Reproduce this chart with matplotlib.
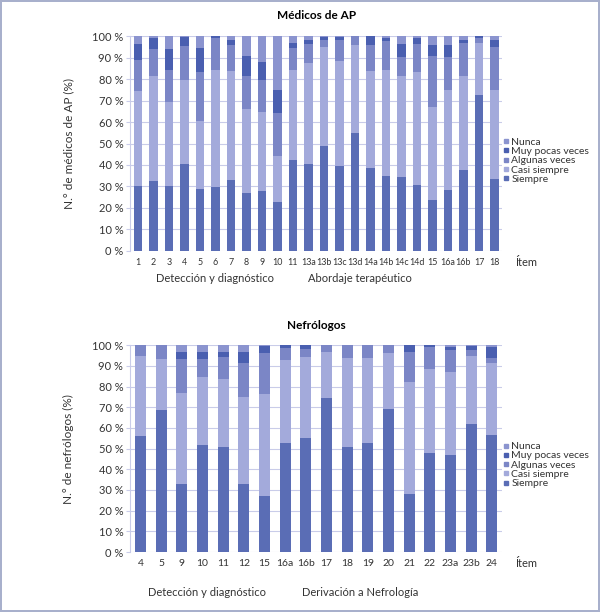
import matplotlib.pyplot as plt
import numpy as np
from matplotlib.lines import Line2D

# Series names (bottom to top in stack)
series = ["Siempre", "Casi siempre", "Algunas veces", "Muy pocas veces", "Nunca"]
colors = ["#5a6db5", "#a3aadb", "#7b86c6", "#4a5fb0", "#8b94cf"]

# Médicos de AP
items_ap = ["1", "2", "3", "4", "5", "6", "7", "8", "9", "10", "11", "13a", "13b",
            "13c", "13d", "14a", "14b", "14c", "14d", "15", "16a", "16b", "17", "18"]
siempre_ap = [30, 32.4, 30.1, 40.5, 29, 29.8, 32.9, 27.1, 27.9, 22.8, 42.5, 40.3, 49,
              39.5, 54.7, 38.4, 34.9, 34.3, 30.9, 23.9, 28.5, 37.7, 72.6, 33.3]
casi_ap = [44.6, 48.8, 39, 39, 31.5, 54.5, 51, 39.1, 36.8, 21.4, 41.8, 47, 45.7,
           48.9, 41.1, 45.5, 49.3, 47.1, 52.2, 43.1, 46.2, 43.9, 24, 41.6]
algunas_ap = [14.5, 12.9, 15.2, 16, 22.9, 14.6, 11.9, 15, 15, 20.1, 10, 8.8, 3.4,
              9.6, 4.2, 11.9, 13.6, 8.8, 13.2, 23.9, 15.7, 15.4, 2.6, 20]
muy_ap = [7.2, 4.8, 9.7, 4.2, 10.9, 1.1, 2.5, 9.7, 8.1, 10.6, 2.3, 1.9, 1.4,
          1.5, 0, 4.2, 1.1, 6.1, 2.6, 4.9, 5.4, 1.1, 0.8, 3.2]
nunca_ap = [3.7, 1.1, 6, 0.3, 5.7, 0, 1.7, 9.1, 12.2, 25.1, 3.4, 2, 0.5,
            0.5, 0, 0, 1.1, 3.7, 1.1, 4.2, 4.2, 1.9, 0, 1.9]

# Nefrólogos
items_nef = ["4", "5", "9", "10", "11", "12", "15", "16a", "16b", "17", "18", "19",
             "20", "21", "22", "23a", "23b", "24"]
siempre_nef = [55.9, 68.8, 33, 51.9, 50.6, 32.8, 27.2, 52.6, 55.3, 74.6, 50.8, 52.9,
               69, 28, 48.1, 47.1, 62.1, 56.8]
casi_nef = [39, 24.4, 44, 32.8, 33, 42, 49.4, 40, 39.2, 22.2, 42.8, 40.8,
            27.3, 54, 40.5, 39.7, 32.8, 34.5]
algunas_nef = [5.1, 6.8, 16.4, 8.4, 10.9, 16.8, 19.7, 6.1, 3.5, 3.2, 6.4, 6.3,
               3.7, 14.8, 10.6, 10.8, 2.7, 2.6]
muy_nef = [0, 0, 3.1, 3.7, 2.3, 4.9, 3.2, 1.3, 2, 0, 0, 0,
           0, 3.2, 0.8, 1.6, 2.1, 5.3]
nunca_nef = [0, 0, 3.5, 3.2, 3.2, 3.5, 0.5, 0, 0, 0, 0, 0,
             0, 0, 0, 0.8, 0.3, 0.8]

plt.rcParams['font.family'] = ['Lato', 'DejaVu Sans']

fig = plt.figure(figsize=(6, 6.12), dpi=100)
fig.patch.set_edgecolor("#a8b0cc")
fig.patch.set_linewidth(1.5)

grid_c = "#c9cce9"
txt_c = "#333333"


def draw_panel(ax, items, data, title, ylabel, width, xsize):
    x = np.arange(len(items))
    bottom = np.zeros(len(items))
    for vals, c in zip(data, colors):
        ax.bar(x, vals, width, bottom=bottom, color=c, zorder=3)
        bottom += np.array(vals)
    ax.set_xlim(-0.5, len(items) - 0.5)
    ax.set_ylim(0, 100)
    ax.set_yticks(np.arange(0, 101, 10))
    ax.set_yticklabels([f"{v} %" for v in range(0, 101, 10)], fontsize=8, color=txt_c)
    ax.set_xticks(x)
    ax.set_xticklabels(items, fontsize=xsize, color=txt_c)
    ax.tick_params(axis="x", length=0, pad=5)
    ax.tick_params(axis="y", length=3, color=grid_c, pad=2)
    ax.grid(axis="y", color=grid_c, linewidth=0.8, zorder=0)
    for s in ["top", "right", "bottom"]:
        ax.spines[s].set_visible(False)
    ax.spines["left"].set_color(grid_c)
    ax.set_title(title, fontsize=8.5, fontweight="bold", pad=12)
    ax.set_ylabel(ylabel, fontsize=8.5, color=txt_c)
    ax.yaxis.set_label_coords(-0.15, 0.5)
    ax.text(1.035, -0.055, "Ítem", transform=ax.transAxes, fontsize=8,
            color=txt_c, va="center")
    handles = [Line2D([], [], marker="s", linestyle="", markersize=2.5,
                      color=c, label=s) for s, c in zip(series, colors)][::-1]
    ax.legend(handles=handles, loc="center left", bbox_to_anchor=(0.985, 0.42),
              frameon=False, fontsize=7.5, handletextpad=0.1, handlelength=0.8,
              labelspacing=0.0, borderpad=0, labelcolor=txt_c)


ax1 = fig.add_axes([0.217, 0.590, 0.620, 0.351])
draw_panel(ax1, items_ap, [siempre_ap, casi_ap, algunas_ap, muy_ap, nunca_ap],
           "Médicos de AP", "N.° de médicos de AP (%)", 0.55, 6.4)
fig.text(215 / 600, 1 - 279 / 612, "Detección y diagnóstico", fontsize=8,
         ha="center", va="center", color=txt_c)
fig.text(360 / 600, 1 - 279 / 612, "Abordaje terapéutico", fontsize=8,
         ha="center", va="center", color=txt_c)

ax2 = fig.add_axes([0.217, 0.098, 0.620, 0.338])
draw_panel(ax2, items_nef, [siempre_nef, casi_nef, algunas_nef, muy_nef, nunca_nef],
           "Nefrólogos", "N.° de nefrólogos (%)", 0.53, 7.5)
fig.text(207 / 600, 1 - 592 / 612, "Detección y diagnóstico", fontsize=8,
         ha="center", va="center", color=txt_c)
fig.text(360 / 600, 1 - 592 / 612, "Derivación a Nefrología", fontsize=8,
         ha="center", va="center", color=txt_c)

fig.savefig("out.png", dpi=100, edgecolor=fig.get_edgecolor())
